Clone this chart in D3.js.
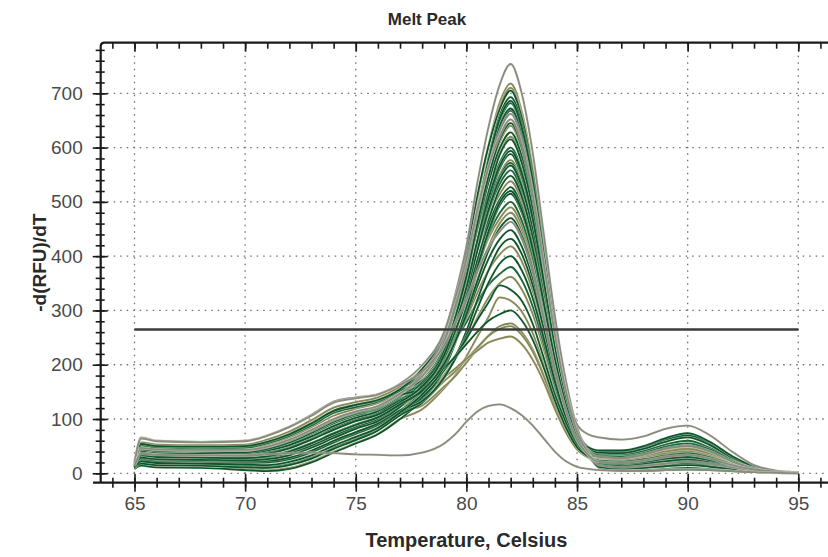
<!DOCTYPE html>
<html><head><meta charset="utf-8">
<script src="https://cdn.jsdelivr.net/npm/d3@7"></script>
<style>html,body{margin:0;padding:0;background:#fff;} svg{display:block;}</style>
</head><body><svg id="c" width="828" height="557"></svg>
<script>
// ---- data ----
const temps = [65, 65.3, 66, 68, 70, 71, 72, 73, 74, 75, 76, 77, 78, 79, 79.5, 80, 80.5, 81, 81.5, 82, 82.5, 83, 83.5, 84, 84.5, 85, 85.5, 86, 87, 88, 89, 90, 91, 92, 93, 94, 95];
const xTicks = [65, 70, 75, 80, 85, 90, 95];
const yTicks = [0, 100, 200, 300, 400, 500, 600, 700];
const threshold = 265;
const wells = [
  [16,46,43,42,42,48,60,78,98,112,122,145,185,255,330,418,536,638,715,754,700,590,440,290,170,85,42,30,28,34,45,50,40,22,9,3,1],
  [14,32,29,28,27,30,38,52,70,86,100,125,163,230,301,388,502,604,682,718,667,563,421,278,163,82,39,22,20,24,31,35,28,16,7,3,1],
  [18,54,50,49,50,58,72,92,115,126,135,155,192,258,328,407,513,603,670,705,655,553,414,273,161,81,48,40,40,48,62,70,55,30,12,4,1],
  [12,26,23,22,20,21,27,40,58,74,90,115,151,217,285,370,481,581,658,693,644,544,407,269,158,80,38,14,10,13,17,20,16,10,5,2,1],
  [15,39,36,35,35,40,50,66,85,100,112,135,170,235,302,381,486,578,648,682,634,535,401,265,156,79,38,32,30,36,47,52,42,23,9,3,1],
  [10,19,16,15,12,11,16,28,46,62,80,108,145,209,274,357,465,563,639,672,625,528,396,262,154,78,38,23,21,25,32,37,29,17,7,3,1],
  [17,47,44,43,43,49,62,80,100,114,124,147,179,243,307,381,480,566,630,662,615,520,390,258,153,90,72,66,62,68,82,88,70,40,15,5,2],
  [20,66,60,58,60,70,86,108,132,140,146,165,199,261,324,394,486,564,620,652,606,513,385,255,151,77,38,15,11,14,18,22,18,11,5,2,1],
  [14,33,30,29,28,31,39,54,72,88,102,127,158,220,281,357,455,542,609,640,595,503,378,251,148,76,37,30,28,34,45,50,40,22,9,3,1],
  [15,38,35,34,34,39,49,65,84,99,111,134,167,228,288,360,454,536,598,628,584,495,372,247,146,75,37,21,19,23,29,33,27,15,7,3,1],
  [8,14,11,10,6,4,8,20,38,55,72,100,136,196,255,331,428,517,586,615,572,485,365,242,144,74,48,38,37,45,58,66,52,29,12,4,1],
  [18,53,49,48,49,57,71,90,113,124,134,154,185,244,301,365,449,520,572,600,558,473,357,237,141,72,36,12,5,5,7,8,7,5,3,1,0],
  [12,27,24,23,21,22,28,41,59,75,91,116,145,203,258,328,418,499,561,588,547,464,350,233,139,72,36,24,22,26,33,37,30,17,7,3,1],
  [16,45,42,41,41,47,59,77,97,111,121,144,174,231,285,348,429,499,550,577,537,456,344,229,136,71,36,28,26,31,42,47,37,20,8,3,1],
  [14,31,28,27,26,29,37,51,69,85,99,124,153,210,263,328,411,485,541,567,528,448,339,226,135,70,36,13,9,12,16,19,15,9,4,2,1],
  [15,40,37,36,36,41,51,67,86,101,113,136,163,218,270,332,411,481,533,558,519,441,334,223,133,69,48,41,41,49,63,72,57,31,12,4,1],
  [10,20,17,16,13,12,17,29,47,63,81,109,137,192,243,308,390,465,523,548,510,434,328,219,131,68,35,20,18,22,28,32,26,15,6,2,1],
  [18,55,51,50,51,59,73,93,116,127,136,156,181,236,285,340,411,471,514,538,501,426,323,216,129,67,36,31,29,35,44,49,41,23,10,3,1],
  [15,37,34,33,33,38,48,64,83,98,110,133,161,214,263,320,393,457,504,527,491,418,317,212,127,67,35,10,4,4,6,7,6,4,2,1,0],
  [12,25,22,21,19,20,26,39,57,73,89,114,140,193,240,299,374,442,493,515,480,409,311,208,125,66,35,23,21,25,32,36,29,16,7,3,1],
  [16,44,41,40,40,46,58,76,96,110,120,143,169,221,266,317,383,439,479,500,466,398,303,203,122,64,35,16,12,15,19,23,18,11,5,2,1],
  [14,33,30,29,28,31,39,53,71,87,101,126,148,198,241,293,358,417,460,480,448,382,292,196,118,63,34,29,27,32,43,48,38,21,9,3,1],
  [20,64,59,57,59,69,85,106,130,138,145,163,187,236,277,319,372,416,445,463,432,370,283,190,115,61,34,21,19,23,30,34,27,15,7,3,1],
  [15,40,37,36,37,42,52,68,87,102,114,136,156,204,243,289,345,395,431,448,418,358,274,185,112,60,48,42,42,50,65,74,58,32,13,4,1],
  [10,18,15,14,11,10,15,27,45,61,79,107,130,176,214,262,320,374,416,432,404,346,266,180,109,59,33,12,9,11,15,18,14,9,4,2,1],
  [16,47,44,43,44,50,62,80,100,113,123,146,164,210,245,285,333,374,403,418,391,335,258,175,106,58,33,22,20,24,31,35,28,16,7,3,1],
  [13,28,25,24,22,23,29,42,60,76,92,116,133,177,211,253,304,351,386,400,374,322,248,169,103,56,35,31,30,35,46,51,41,22,9,3,1],
  [17,51,47,46,47,55,69,88,111,122,132,152,171,214,246,278,316,347,367,380,356,307,238,162,99,55,32,11,6,6,8,10,8,5,3,1,0],
  [13,30,27,26,25,28,36,50,68,84,98,123,140,182,211,246,287,324,350,362,339,293,228,155,96,53,32,24,22,26,33,38,30,17,7,3,1],
  [14,37,34,33,33,38,47,63,82,98,110,134,149,190,217,248,283,315,346,338,318,275,212,145,93,52,31,15,11,14,18,21,17,10,5,2,1],
  [9,16,13,12,8,6,10,22,40,56,73,100,118,157,181,215,252,288,324,318,298,258,200,138,89,50,32,28,26,32,42,48,38,21,9,3,1],
  [15,44,41,40,39,45,57,75,95,110,121,144,156,194,215,238,261,281,293,300,282,246,194,134,84,48,31,21,19,23,30,34,27,15,6,2,1],
  [11,24,21,20,18,19,25,38,56,72,88,113,125,160,179,204,229,254,271,276,260,228,181,126,79,46,30,14,10,13,17,20,16,10,5,2,1],
  [15,35,32,31,30,33,41,55,73,89,103,128,134,170,188,210,232,253,266,271,255,224,178,124,78,46,30,27,26,31,40,46,37,20,8,3,1],
  [16,41,38,37,38,43,53,69,88,103,114,137,143,177,193,211,226,241,248,252,238,209,168,118,75,44,29,22,20,24,31,35,28,16,7,3,1],
  [14,36,34,33,33,35,37,38,37,35,34,33,38,55,72,95,114,124,127,120,107,88,64,40,22,12,8,6,5,5,6,7,6,4,2,1,0],
  [17,50,46,45,46,53,66,85,106,119,129,150,177,244,314,396,506,602,674,710,659,556,416,275,162,81,40,27,25,30,38,42,34,19,8,3,1],
  [13,34,31,30,29,32,41,56,74,90,104,128,156,221,288,371,480,576,652,686,637,538,403,267,157,79,37,18,15,19,25,28,22,13,6,2,1],
  [15,42,39,38,38,44,55,72,92,106,117,140,185,248,313,388,487,573,635,668,621,525,394,261,154,78,44,35,34,41,53,60,47,26,10,3,1],
  [12,29,26,25,24,26,33,47,65,82,96,122,163,225,287,363,461,547,614,645,600,507,381,253,149,76,36,12,8,10,13,15,12,8,4,2,0],
  [19,57,53,52,53,62,77,98,121,131,140,160,192,252,311,377,464,538,590,620,577,488,367,244,145,74,40,29,27,32,40,45,36,20,8,3,1],
  [14,37,34,33,32,36,46,62,80,96,108,131,160,218,275,342,430,507,566,594,553,469,353,235,140,72,36,17,13,17,22,25,20,12,5,2,1],
  [16,44,41,40,40,46,57,75,95,109,119,142,168,225,279,342,423,494,546,572,532,452,341,227,135,70,42,33,31,37,49,55,44,24,10,3,1],
  [11,22,19,18,16,15,21,33,51,67,84,112,145,198,246,305,380,446,498,520,485,413,313,210,126,66,35,19,17,20,27,30,24,14,6,2,1],
  [18,52,48,47,48,56,70,90,112,124,133,153,173,224,268,317,379,433,469,490,457,390,297,199,120,64,38,26,24,28,36,40,32,18,8,3,1],
  [13,33,30,29,28,31,40,55,73,89,103,127,152,202,243,293,355,410,451,470,438,375,286,193,116,62,34,17,13,17,22,25,20,12,5,2,1]
];
// ---- styles ----
const palette = {green: "#0f5430", green2: "#1b6640", olive: "#86865a", gray: "#8a8a84"};
const layer = {olive: 0, green2: 1, green: 2, gray: 3};
const wellStyle = ["gray","olive","green","green","green2","green","gray","gray","olive","green","green","green2","green","olive","green","green2","green","olive","green","green","green2","olive","gray","green","green","olive","green","green2","olive","green","olive","green","olive","olive","olive","gray",
  "olive","green","green2","green","olive","green","green2","green","olive","green"];

const W = 828, H = 557;
const plotL = 100.7, plotT = 42.7, plotB = 482.7;
const x = d3.scaleLinear().domain([65, 95]).range([134.5, 798.3]);
const y = d3.scaleLinear().domain([0, 700]).range([473.3, 93.3]);
const svg = d3.select("#c");
const font = "'Liberation Sans', Arial, sans-serif";

// grid
const grid = svg.append("g").attr("stroke", "#6f6f6f").attr("stroke-width", 1.3).attr("stroke-dasharray", "1.5,5");
grid.selectAll(".gy").data(yTicks).join("line").attr("x1", plotL).attr("x2", W).attr("y1", d => y(d)).attr("y2", d => y(d));
grid.selectAll(".gx").data(xTicks).join("line").attr("x1", d => x(d)).attr("x2", d => x(d)).attr("y1", plotT).attr("y2", plotB);

// curves
svg.append("clipPath").attr("id", "clip").append("rect").attr("x", plotL).attr("y", plotT).attr("width", W - plotL).attr("height", plotB - plotT);
const line = d3.line().x((d, i) => x(temps[i])).y(d => y(d)).curve(d3.curveMonotoneX);
const cg = svg.append("g").attr("clip-path", "url(#clip)").attr("fill", "none");
const order = d3.range(wells.length).sort((a, b) => layer[wellStyle[a]] - layer[wellStyle[b]] || a - b);
order.forEach(i => {
  const w = wells[i];
  cg.append("path").attr("d", line(w)).attr("stroke", "#e8efcf").attr("stroke-width", 2.9).attr("stroke-opacity", 0.5);
  cg.append("path").attr("d", line(w)).attr("stroke", palette[wellStyle[i]]).attr("stroke-width", 1.8);
});

// threshold
svg.append("line").attr("x1", x(65)).attr("x2", x(95)).attr("y1", y(threshold)).attr("y2", y(threshold))
  .attr("stroke", "#3a3d3a").attr("stroke-width", 2.4);

// axes
const minorY = d3.range(0, 781, 20);
const minorX = d3.range(64, 98, 1);
function styleAxis(g) { g.select(".domain").remove(); g.selectAll("line").attr("stroke", "#1a1a1a").attr("stroke-width", 1.6); }
svg.append("g").attr("transform", `translate(${plotL},0)`).call(d3.axisLeft(y).tickValues(minorY).tickSize(5).tickFormat("")).call(styleAxis);
svg.append("g").attr("transform", `translate(${plotL},0)`).call(d3.axisRight(y).tickValues(minorY).tickSize(4).tickFormat("")).call(styleAxis);
const yAx = svg.append("g").attr("transform", `translate(${plotL},0)`).call(d3.axisLeft(y).tickValues(yTicks).tickSize(8).tickPadding(10).tickFormat(d3.format("d"))).call(styleAxis);
svg.append("g").attr("transform", `translate(${plotL},0)`).call(d3.axisRight(y).tickValues(yTicks).tickSize(7).tickFormat("")).call(styleAxis);
yAx.selectAll("text").attr("font-family", font).attr("font-size", 19).attr("fill", "#4a4a4a");

svg.append("g").attr("transform", `translate(0,${plotB})`).call(d3.axisBottom(x).tickValues(minorX).tickSize(5).tickFormat("")).call(styleAxis);
svg.append("g").attr("transform", `translate(0,${plotB})`).call(d3.axisTop(x).tickValues(minorX).tickSize(5).tickFormat("")).call(styleAxis);
const xAx = svg.append("g").attr("transform", `translate(0,${plotB})`).call(d3.axisBottom(x).tickValues(xTicks).tickSize(9).tickPadding(5).tickFormat(d3.format("d"))).call(styleAxis);
svg.append("g").attr("transform", `translate(0,${plotB})`).call(d3.axisTop(x).tickValues(xTicks).tickSize(9).tickFormat("")).call(styleAxis);
xAx.selectAll("text").attr("font-family", font).attr("font-size", 19).attr("fill", "#4a4a4a");
// top ticks (inward)
svg.append("g").attr("transform", `translate(0,${plotT})`).call(d3.axisBottom(x).tickValues(minorX).tickSize(6).tickFormat("")).call(styleAxis);
svg.append("g").attr("transform", `translate(0,${plotT})`).call(d3.axisBottom(x).tickValues(xTicks).tickSize(9).tickFormat("")).call(styleAxis);

// frame
const r = 4;
svg.append("path").attr("d", `M${plotL},${plotB} L${plotL},${plotT + r} Q${plotL},${plotT} ${plotL + r},${plotT} L${W + 5},${plotT}`)
  .attr("fill", "none").attr("stroke", "#1a1a1a").attr("stroke-width", 2.2);
svg.append("line").attr("x1", 93).attr("x2", W + 5).attr("y1", plotB).attr("y2", plotB).attr("stroke", "#1a1a1a").attr("stroke-width", 2.2);

// titles
svg.append("text").attr("x", 427).attr("y", 25).attr("text-anchor", "middle").attr("font-family", font).attr("font-weight", "bold").attr("font-size", 17).attr("fill", "#2a2a2a").text("Melt Peak");
svg.append("text").attr("x", x(80)).attr("y", 547).attr("text-anchor", "middle").attr("font-family", font).attr("font-weight", "bold").attr("font-size", 20).attr("fill", "#2a2a2a").text("Temperature, Celsius");
svg.append("text").attr("transform", `translate(46,${(plotT + plotB) / 2}) rotate(-90)`).attr("text-anchor", "middle").attr("font-family", font).attr("font-weight", "bold").attr("font-size", 19).attr("fill", "#2a2a2a").text("-d(RFU)/dT");
</script></body></html>
